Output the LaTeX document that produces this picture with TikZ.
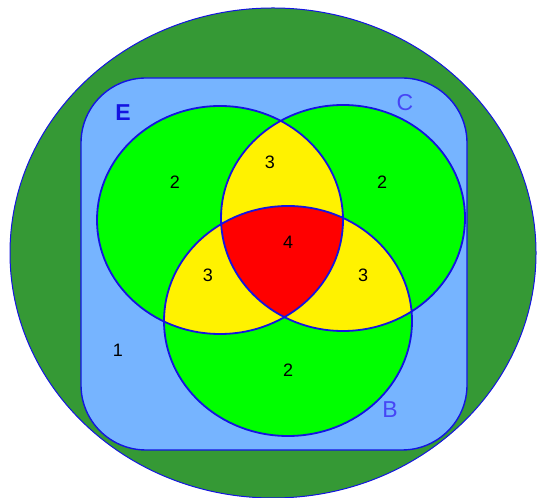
\documentclass[tikz,border=0pt]{standalone}
\usepackage{fontspec}
\setsansfont{Liberation Sans}
\usepackage{tikz}
\tikzset{every picture/.style={/utils/exec={\sffamily}}}

\definecolor{outergreen}{RGB}{53,153,53}
\definecolor{skyblue}{RGB}{118,180,255}
\definecolor{setgreen}{RGB}{0,255,0}
\definecolor{rimblue}{RGB}{20,20,225}
\definecolor{labelblue}{RGB}{70,70,245}

\newcommand{\circE}{(220,277) ellipse [x radius=123, y radius=114]}
\newcommand{\circC}{(343,279) ellipse [x radius=122, y radius=113]}
\newcommand{\circB}{(288,176) ellipse [x radius=124, y radius=115]}

\begin{document}
\begin{tikzpicture}[x=1pt, y=1pt,
    rim/.style={draw=rimblue, line width=1.8pt},
    count/.style={font=\fontsize{18}{18}\selectfont},
    setname/.style={text=labelblue, font=\fontsize{23}{23}\selectfont}]
        \useasboundingbox (0,0) rectangle (537,497);

        % Universe
        \draw[fill=outergreen, draw=rimblue, line width=1pt] (273,244) ellipse [x radius=263, y radius=245];
        \draw[fill=skyblue, rim, line width=1.4pt, rounded corners=65pt] (81,47) rectangle (467,419);

        % Sets
        \fill[setgreen] \circE;
        \fill[setgreen] \circC;
        \fill[setgreen] \circB;
        \begin{scope}
            \clip \circE;
            \fill[yellow] \circC;
            \fill[yellow] \circB;
        \end{scope}
        \begin{scope}
            \clip \circC;
            \fill[yellow] \circB;
        \end{scope}
        \begin{scope}
            \clip \circE;
            \clip \circC;
            \fill[red] \circB;
        \end{scope}
        \draw[rim] \circE \circC \circB;

        % Labels
        \node[setname, text=rimblue, font=\fontsize{23}{23}\selectfont\bfseries] (E) at (123,384) {E};
        \node[setname] (C) at (405,394) {C};
        \node[setname] (B) at (390,87) {B};
        \node[count] (outside) at (118,147) {1};
        \node[count] (onlyE) at (175,315) {2};
        \node[count] (onlyC) at (382,315) {2};
        \node[count] (onlyB) at (288,127) {2};
        \node[count] (EC) at (270,335) {3};
        \node[count] (EB) at (208,222) {3};
        \node[count] (CB) at (363,222) {3};
        \node[count] (ECB) at (288,255) {4};
    \end{tikzpicture}
\end{document}
